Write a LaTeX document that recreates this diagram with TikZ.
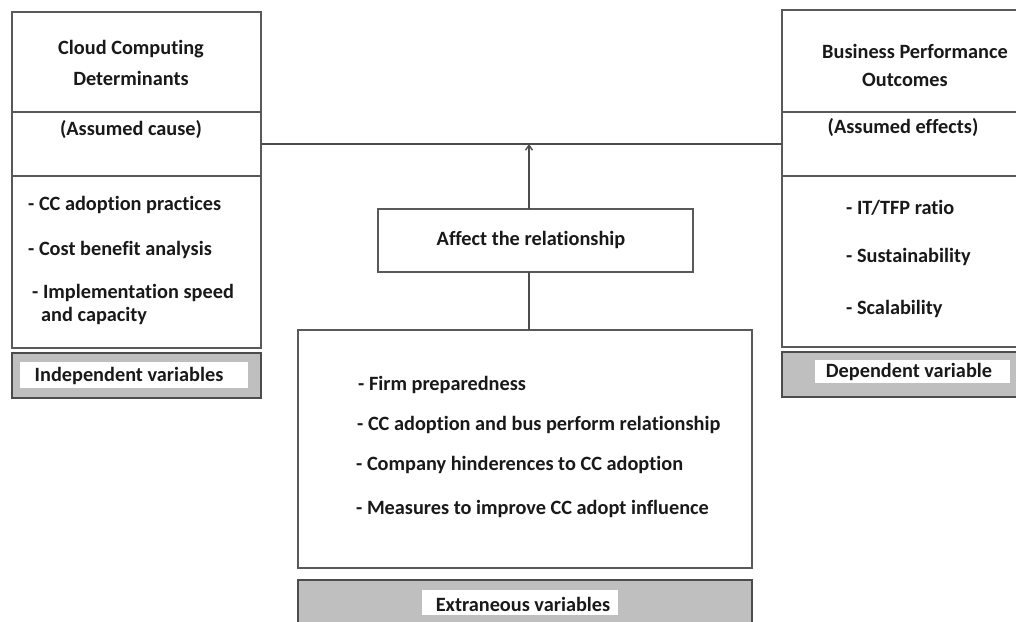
\documentclass[tikz,border=0pt]{standalone}
\usepackage{fontspec}
\setmainfont{Carlito}[Ligatures=NoCommon]
\usetikzlibrary{arrows.meta}
\begin{document}
\begin{tikzpicture}[x=1pt,y=-1pt,
  box/.style={draw=black!65, line width=1.6pt, fill=white, rectangle, inner sep=0pt, outer sep=0pt},
  labbox/.style={draw=black!70, line width=2.6pt, fill=black!25, rectangle, inner sep=0pt, outer sep=0pt},
  inwhite/.style={fill=white, draw=none, rectangle, inner sep=0pt},
  txt/.style={font=\fontsize{20.3}{24}\selectfont\bfseries, inner sep=0pt, text=black!90},
  conn/.style={draw=black!70, line width=1.2pt}]
\useasboundingbox (0,0) rectangle (1016,621);
% left column
\node[box, minimum width=249pt, minimum height=100pt] (lhead) at (136.5,62) {};
\node[box, minimum width=249pt, minimum height=64pt] (lcause) at (136.5,144) {};
\node[box, minimum width=249pt, minimum height=172pt] (llist) at (136.5,262) {};
\node[labbox, minimum width=249pt, minimum height=45pt] (llab) at (136.5,375.5) {};
\node[inwhite, minimum width=228pt, minimum height=26pt] (llabw) at (134,375) {};
\node[txt] (t1) at (131,49) {Cloud Computing};
\node[txt] (t2) at (131,78) {Determinants};
\node[txt] (t3) at (131,130) {(Assumed cause)};
\node[txt, anchor=west] (t4) at (28,205) {- CC adoption practices};
\node[txt, anchor=west] (t5) at (28,250) {- Cost benefit analysis};
\node[txt, anchor=west] (t6) at (32,293) {- Implementation speed};
\node[txt, anchor=west] (t7) at (41,316) {and capacity};
\node[txt] (t8) at (129,376) {Independent variables};
% right column
\node[box, minimum width=238pt, minimum height=102pt] (rhead) at (901,61) {};
\node[box, minimum width=238pt, minimum height=64pt] (rcause) at (901,144) {};
\node[box, minimum width=238pt, minimum height=171pt] (rlist) at (901,261.5) {};
\node[labbox, minimum width=238pt, minimum height=45pt] (rlab) at (901,374.5) {};
\node[inwhite, minimum width=195pt, minimum height=23pt] (rlabw) at (912.5,371.5) {};
\node[txt] (r1) at (915,51) {Business Performance};
\node[txt] (r2) at (905,80) {Outcomes};
\node[txt] (r3) at (903,128) {(Assumed effects)};
\node[txt, anchor=west] (r4) at (846,208) {- IT/TFP ratio};
\node[txt, anchor=west] (r5) at (846,257) {- Sustainability};
\node[txt, anchor=west] (r6) at (846,309) {- Scalability};
\node[txt] (r7) at (909,372) {Dependent variable};
% middle
\node[box, minimum width=315pt, minimum height=63pt] (affect) at (535.5,240.5) {};
\node[txt] (a1) at (531,240) {Affect the relationship};
\node[box, minimum width=454pt, minimum height=238pt] (extr) at (525,449) {};
\node[labbox, minimum width=454pt, minimum height=50pt] (elab) at (525,605) {};
\node[inwhite, minimum width=196pt, minimum height=25pt] (elabw) at (520,602.5) {};
\node[txt, anchor=west] (e1) at (358,385) {- Firm preparedness};
\node[txt, anchor=west] (e2) at (357,425) {- CC adoption and bus perform relationship};
\node[txt, anchor=west] (e3) at (356,465) {- Company hinderences to CC adoption};
\node[txt, anchor=west] (e4) at (356,509) {- Measures to improve CC adopt influence};
\node[txt] (e5) at (523,604) {Extraneous variables};
% connectors
\draw[conn] (lcause.east) -- (rcause.west);
\coordinate (hit) at (529,144);
\coordinate (atop) at (affect.north -| hit);
\coordinate (abot) at (affect.south -| hit);
\coordinate (etop) at (extr.north -| hit);
\draw[conn, -{Straight Barb[length=5pt,width=7pt,line width=1.4pt]}] (atop) -- (hit);
\draw[conn] (etop) -- (abot);
\end{tikzpicture}
\end{document}
